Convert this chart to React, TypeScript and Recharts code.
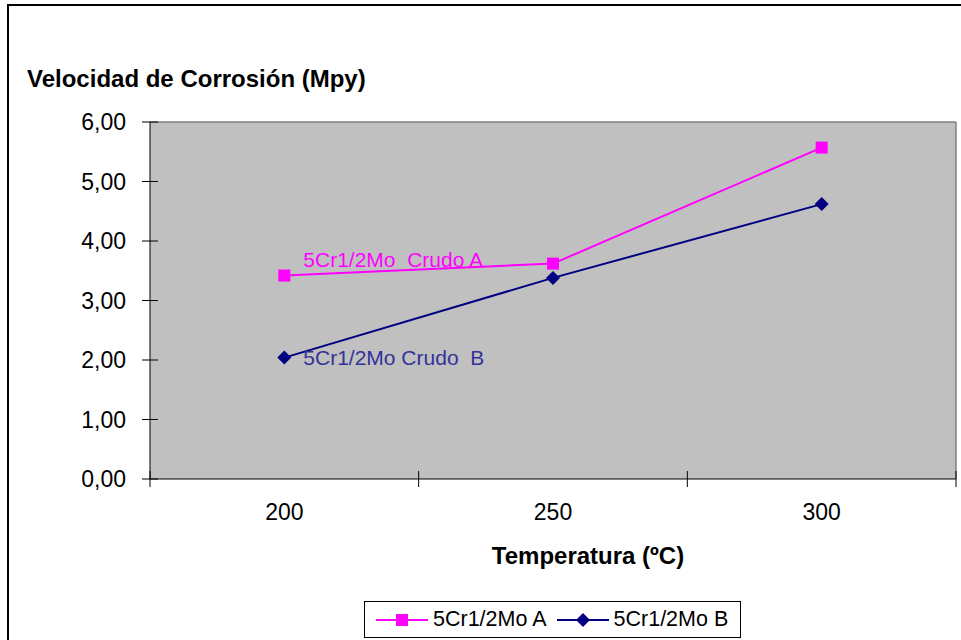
import React from "react";
import { LineChart, Line, XAxis, YAxis, CartesianGrid, ReferenceLine, LabelList, Label } from "recharts";

const temperatures = ["200", "250", "300"];
const crudoA = [3.42, 3.62, 5.57];
const crudoB = [2.04, 3.38, 4.62];
const yTicks = [0, 1, 2, 3, 4, 5, 6];
const seriesNames = ["5Cr1/2Mo A", "5Cr1/2Mo B"];
const seriesNotes = ["5Cr1/2Mo  Crudo A", "5Cr1/2Mo Crudo  B"];
const colors = ["#FF00FF", "#000080"];
const noteColors = ["#FF00FF", "#333399"];

const data = temperatures.map((t, i) => ({ temp: t, a: crudoA[i], b: crudoB[i] }));

const FONT = '"Liberation Sans", Arial, sans-serif';
const W = 961;
const H = 640;
const PLOT_LEFT = 150;
const PLOT_RIGHT = 956;
const HALF_BAND = (PLOT_RIGHT - PLOT_LEFT) / temperatures.length / 2;

function fmt(v: number) {
  return v.toFixed(2).replace(".", ",");
}

function YTick(props: any) {
  const { x, y, payload } = props;
  const ax = x + 8 + 16;
  return (
    <g>
      <line x1={ax - 8} x2={ax + 8} y1={y} y2={y} stroke="#000" />
      <text x={x} y={y} textAnchor="end" dominantBaseline="central" fontSize={23} fontFamily={FONT} fill="#000">
        {fmt(payload.value)}
      </text>
    </g>
  );
}

function XTick(props: any) {
  const { x, y, payload, index, visibleTicksCount } = props;
  const ay = y - 8 - 2;
  const last = index === visibleTicksCount - 1;
  return (
    <g>
      <line x1={x - HALF_BAND} x2={x - HALF_BAND} y1={ay - 8} y2={ay + 8} stroke="#000" />
      {last && <line x1={x + HALF_BAND} x2={x + HALF_BAND} y1={ay - 8} y2={ay + 8} stroke="#000" />}
      <text x={x} y={ay + 33} textAnchor="middle" dominantBaseline="central" fontSize={23} fontFamily={FONT} fill="#000">
        {payload.value}
      </text>
    </g>
  );
}

function SquareDot(props: any) {
  const { cx, cy, index } = props;
  return <rect key={`sq-${index}`} x={cx - 6} y={cy - 6} width={12} height={12} fill={colors[0]} />;
}

function DiamondDot(props: any) {
  const { cx, cy, index } = props;
  return (
    <path
      key={`dm-${index}`}
      d={`M${cx},${cy - 7} L${cx + 7},${cy} L${cx},${cy + 7} L${cx - 7},${cy} Z`}
      fill={colors[1]}
    />
  );
}

function note(i: number, dy: number) {
  return (p: any) => {
    if (p.index !== 0) return null;
    const x = p.x ?? p.viewBox?.x;
    const y = p.y ?? p.viewBox?.y;
    return (
      <text x={x + 19} y={y + dy} fontSize={21} fontFamily={FONT} fill={noteColors[i]} style={{ whiteSpace: "pre" }}>
        {seriesNotes[i]}
      </text>
    );
  };
}

function LegendItem({ i }: { i: number }) {
  return (
    <div style={{ display: "flex", alignItems: "center" }}>
      <svg width={52} height={16}>
        <line x1={0} x2={52} y1={8} y2={8} stroke={colors[i]} strokeWidth={2} />
        {i === 0 ? (
          <rect x={20} y={2} width={12} height={12} fill={colors[0]} />
        ) : (
          <path d="M26,1 L33,8 L26,15 L19,8 Z" fill={colors[1]} />
        )}
      </svg>
      <span style={{ marginLeft: 5, fontSize: 21.5, fontFamily: FONT }}>{seriesNames[i]}</span>
    </div>
  );
}

export default function App() {
  return (
    <div style={{ position: "fixed", left: 0, top: 0, width: W, height: H, overflow: "hidden", background: "#fff" }}>
      <div
        style={{
          position: "absolute",
          left: 7,
          top: 4,
          width: 3000,
          height: 3000,
          borderLeft: "2px solid #000",
          borderTop: "2px solid #000",
        }}
      />
      <div style={{ position: "absolute", left: 0, top: 0 }}>
        <LineChart width={W} height={H} data={data} margin={{ top: 122, right: 0, bottom: 66, left: 0 }}>
          <CartesianGrid fill="#C0C0C0" horizontal={false} vertical={false} />
          <ReferenceLine y={6} stroke="#808080" strokeWidth={1.5} />
          <XAxis
            dataKey="temp"
            height={95}
            padding={{ left: HALF_BAND, right: HALF_BAND }}
            axisLine={{ stroke: "#000" }}
            tickLine={false}
            tickSize={8}
            tick={<XTick />}
            interval={0}
          >
            <Label
              content={() => (
                <text x={588} y={555} textAnchor="middle" dominantBaseline="central" fontSize={24} fontWeight="bold" fontFamily={FONT} fill="#000">
                  Temperatura (ºC)
                </text>
              )}
            />
          </XAxis>
          <YAxis
            width={150}
            domain={[0, 6]}
            ticks={yTicks}
            interval={0}
            axisLine={{ stroke: "#000" }}
            tickLine={false}
            tickSize={8}
            tickMargin={16}
            tick={<YTick />}
          >
            <Label
              content={() => (
                <text x={27} y={87} fontSize={24} fontWeight="bold" fontFamily={FONT} fill="#000">
                  Velocidad de Corrosión (Mpy)
                </text>
              )}
            />
          </YAxis>
          <YAxis
            yAxisId="r"
            orientation="right"
            width={5}
            domain={[0, 6]}
            tick={false}
            tickLine={false}
            axisLine={{ stroke: "#808080", strokeWidth: 1.5 }}
          />
          <Line dataKey="a" stroke={colors[0]} strokeWidth={2} dot={<SquareDot />} isAnimationActive={false}>
            <LabelList dataKey="a" content={note(0, -9)} />
          </Line>
          <Line dataKey="b" stroke={colors[1]} strokeWidth={2} dot={<DiamondDot />} isAnimationActive={false}>
            <LabelList dataKey="b" content={note(1, 7)} />
          </Line>
        </LineChart>
      </div>
      <div
        style={{
          position: "absolute",
          left: 364,
          top: 601,
          width: 377,
          height: 37,
          boxSizing: "border-box",
          border: "1px solid #000",
          background: "#fff",
          display: "flex",
          alignItems: "center",
          paddingLeft: 11,
          gap: 10,
        }}
      >
        <LegendItem i={0} />
        <LegendItem i={1} />
      </div>
    </div>
  );
}
